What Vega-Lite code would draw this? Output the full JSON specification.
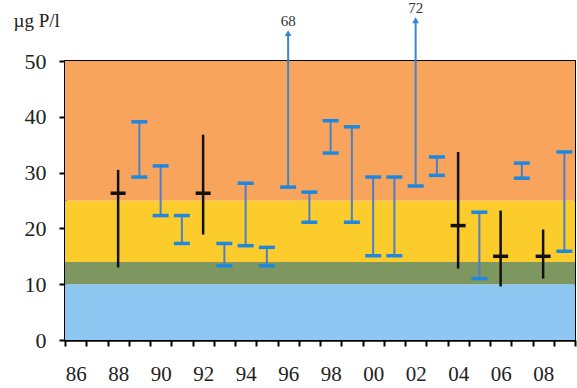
{
  "$schema": "https://vega.github.io/schema/vega-lite/v6.json",
  "width": 510,
  "height": 279,
  "autosize": "none",
  "padding": {"left": 65, "top": 61, "right": 2, "bottom": 48},
  "background": "white",
  "config": {
    "view": {"stroke": "black", "strokeWidth": 2},
    "font": "Liberation Serif",
    "axis": {
      "labelFont": "Liberation Serif",
      "titleFont": "Liberation Serif",
      "labelFontSize": 21,
      "labelColor": "#222",
      "domainColor": "black",
      "domainWidth": 2.5,
      "tickColor": "black",
      "tickWidth": 2,
      "tickSize": 6,
      "grid": false
    }
  },
  "datasets": {
    "zones": [
      {"zone": "z1", "lo": 0, "hi": 10},
      {"zone": "z2", "lo": 10, "hi": 14},
      {"zone": "z3", "lo": 14, "hi": 25},
      {"zone": "z4", "lo": 25, "hi": 50}
    ],
    "obs": [
      {"yr": "88", "kind": "mean", "lo": 13.0, "hi": 30.5, "mean": 26.3},
      {"yr": "89", "kind": "range", "lo": 29.2, "hi": 39.1},
      {"yr": "90", "kind": "range", "lo": 22.3, "hi": 31.2},
      {"yr": "91", "kind": "range", "lo": 17.3, "hi": 22.3},
      {"yr": "92", "kind": "mean", "lo": 18.9, "hi": 36.8, "mean": 26.3},
      {"yr": "93", "kind": "range", "lo": 13.3, "hi": 17.3},
      {"yr": "94", "kind": "range", "lo": 16.9, "hi": 28.1},
      {"yr": "95", "kind": "range", "lo": 13.3, "hi": 16.6},
      {"yr": "96", "kind": "range", "lo": 27.4, "hi": 68, "tip": 55.0},
      {"yr": "97", "kind": "range", "lo": 21.1, "hi": 26.5},
      {"yr": "98", "kind": "range", "lo": 33.5, "hi": 39.3},
      {"yr": "99", "kind": "range", "lo": 21.1, "hi": 38.2},
      {"yr": "00", "kind": "range", "lo": 15.1, "hi": 29.2},
      {"yr": "01", "kind": "range", "lo": 15.1, "hi": 29.2},
      {"yr": "02", "kind": "range", "lo": 27.6, "hi": 72, "tip": 57.3},
      {"yr": "03", "kind": "range", "lo": 29.5, "hi": 32.8},
      {"yr": "04", "kind": "mean", "lo": 12.8, "hi": 33.7, "mean": 20.5},
      {"yr": "05", "kind": "range", "lo": 11.0, "hi": 22.9},
      {"yr": "06", "kind": "mean", "lo": 9.6, "hi": 23.2, "mean": 15.0},
      {"yr": "07", "kind": "range", "lo": 29.0, "hi": 31.7},
      {"yr": "08", "kind": "mean", "lo": 11.0, "hi": 19.8, "mean": 15.0},
      {"yr": "09", "kind": "range", "lo": 15.9, "hi": 33.7}
    ]
  },
  "encoding": {
    "x": {
      "field": "yr",
      "type": "ordinal",
      "scale": {
        "domain": ["86","87","88","89","90","91","92","93","94","95","96","97","98","99","00","01","02","03","04","05","06","07","08","09"],
        "paddingInner": 0,
        "paddingOuter": 0
      },
      "axis": {
        "title": null,
        "labelAngle": 0,
        "labelFont": "Liberation Serif",
        "labelFontSize": 21,
        "tickBand": "extent",
        "labelPadding": 17,
        "labelExpr": "toNumber(datum.value) % 2 == 0 ? datum.value : ''"
      }
    }
  },
  "layer": [
    {
      "data": {"name": "zones"},
      "mark": {"type": "rect"},
      "encoding": {
        "x": null,
        "y": {
          "field": "lo",
          "type": "quantitative",
          "scale": {"domain": [0, 50], "nice": false, "zero": true},
          "axis": {
            "values": [0,5,10,15,20,25,30,35,40,45,50],
            "labelExpr": "datum.value % 10 == 0 ? datum.label : ''",
            "labelFont": "Liberation Serif",
            "labelFontSize": 22,
            "labelPadding": 13,
            "title": "µg P/l",
            "titleFont": "Liberation Serif",
            "titleAngle": 0,
            "titleAlign": "left",
            "titleBaseline": "middle",
            "titleX": -52,
            "titleY": -41,
            "titleFontSize": 19,
            "titleFontWeight": "normal",
            "titleColor": "#222"
          }
        },
        "y2": {"field": "hi"},
        "color": {
          "field": "zone",
          "type": "nominal",
          "scale": {"domain": ["z1","z2","z3","z4"], "range": ["#8EC8F2","#7E9660","#FCCB2C","#F9A45C"]},
          "legend": null
        }
      }
    },
    {
      "data": {"name": "obs"},
      "transform": [{"filter": "datum.kind == 'range' && datum.hi <= 50"}],
      "mark": {"type": "rule", "color": "#4C7FC4", "strokeWidth": 2},
      "encoding": {
        "y": {"field": "lo", "type": "quantitative"},
        "y2": {"field": "hi"}
      }
    },
    {
      "data": {"name": "obs"},
      "transform": [{"filter": "datum.kind == 'range' && datum.hi > 50"}],
      "mark": {"type": "rule", "color": "#3E86CC", "strokeWidth": 2, "clip": false},
      "encoding": {
        "y": {"field": "lo", "type": "quantitative"},
        "y2": {"field": "tip"}
      }
    },
    {
      "data": {"name": "obs"},
      "transform": [{"filter": "datum.kind == 'range' && datum.hi > 50"}],
      "mark": {"type": "point", "shape": "triangle-up", "filled": true, "opacity": 1, "color": "#2E88D8", "size": 45, "clip": false},
      "encoding": {
        "y": {"field": "tip", "type": "quantitative"}
      }
    },
    {
      "data": {"name": "obs"},
      "transform": [{"filter": "datum.kind == 'range' && datum.hi > 50"}],
      "mark": {"type": "text", "font": "Liberation Serif", "fontSize": 15, "color": "#333", "dy": -12, "baseline": "middle", "clip": false},
      "encoding": {
        "y": {"field": "tip", "type": "quantitative"},
        "text": {"field": "hi", "type": "quantitative"}
      }
    },
    {
      "data": {"name": "obs"},
      "transform": [{"filter": "datum.kind == 'range' && datum.hi <= 50"}],
      "mark": {"type": "tick", "color": "#1E88E0", "size": 16, "thickness": 3.5, "opacity": 1},
      "encoding": {
        "y": {"field": "hi", "type": "quantitative"}
      }
    },
    {
      "data": {"name": "obs"},
      "transform": [{"filter": "datum.kind == 'range'"}],
      "mark": {"type": "tick", "color": "#1E88E0", "size": 16, "thickness": 3.5, "opacity": 1},
      "encoding": {
        "y": {"field": "lo", "type": "quantitative"}
      }
    },
    {
      "data": {"name": "obs"},
      "transform": [{"filter": "datum.kind == 'mean'"}],
      "mark": {"type": "rule", "color": "#111", "strokeWidth": 2.5},
      "encoding": {
        "y": {"field": "lo", "type": "quantitative"},
        "y2": {"field": "hi"}
      }
    },
    {
      "data": {"name": "obs"},
      "transform": [{"filter": "datum.kind == 'mean'"}],
      "mark": {"type": "tick", "color": "#111", "size": 15, "thickness": 3.5, "opacity": 1},
      "encoding": {
        "y": {"field": "mean", "type": "quantitative"}
      }
    }
  ]
}
